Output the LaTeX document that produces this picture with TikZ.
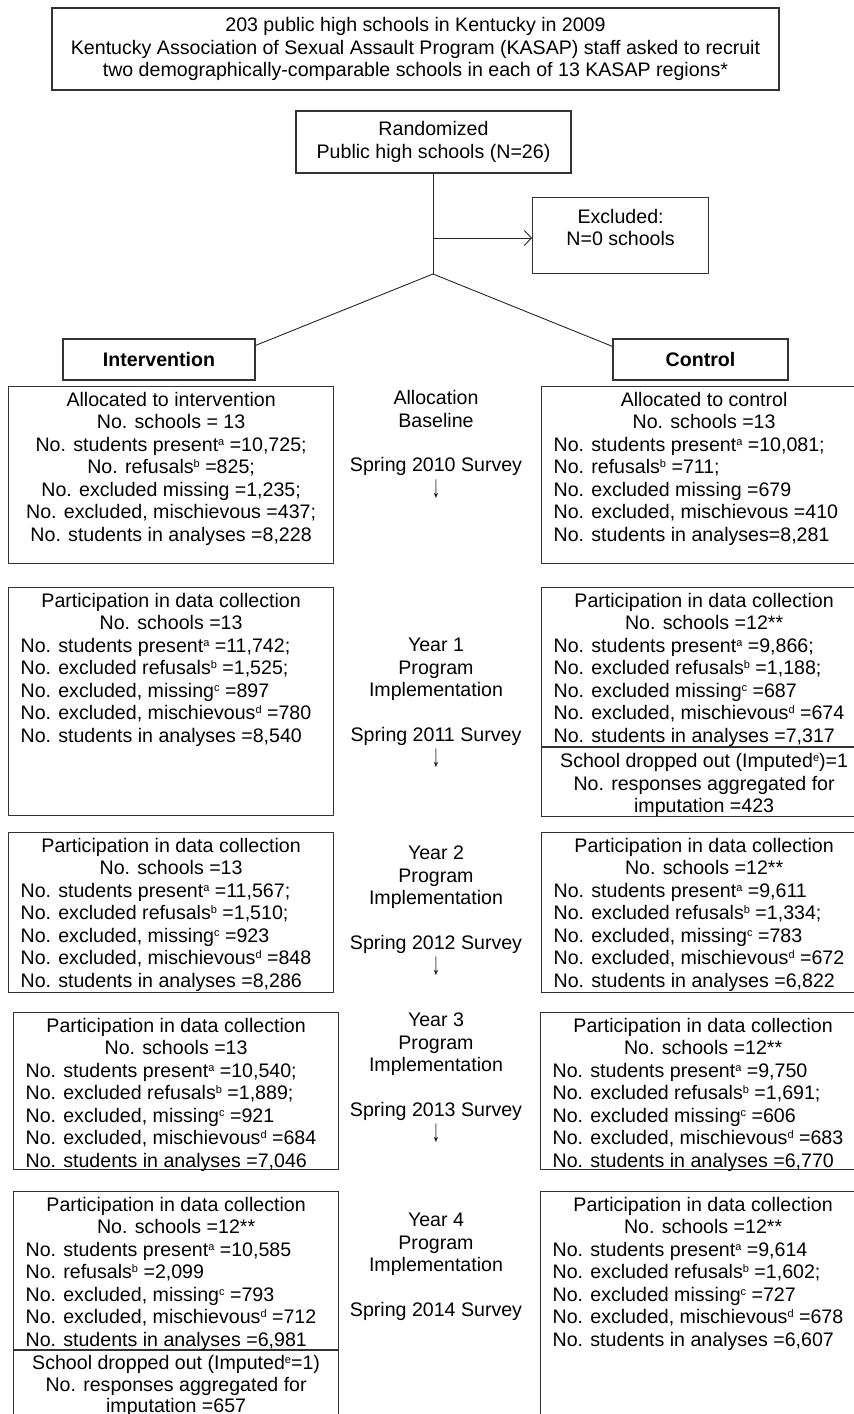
\documentclass[tikz,border=0pt]{standalone}
\usepackage{fontspec}
\setmainfont{Liberation Sans}
\usetikzlibrary{arrows.meta,calc}
\definecolor{BoxClr}{rgb}{0.2,0.2,0.2}
\definecolor{LineClr}{rgb}{0.15,0.15,0.15}
\newcommand{\fn}[1]{\raisebox{6pt}{\fontsize{11}{11}\selectfont #1}}
\newcommand{\dnarrow}{\scalebox{0.8}[1.6]{↓}}
\newcommand{\cellbox}[2]{\parbox[t][#1][t]{301pt}{\raggedright #2}}

\begin{document}
\begin{tikzpicture}[x=1pt,y=-1pt,
  every node/.style={font=\fontsize{19.6}{22.5}\selectfont},
  box/.style={draw=BoxClr,line width=1.2pt,inner xsep=12pt,inner ysep=4pt,anchor=north west},
  head/.style={draw=BoxClr,line width=1.2pt,align=center,inner sep=0pt},
  mid/.style={align=center,inner sep=0pt,anchor=north},
  link/.style={draw=LineClr,line width=0.9pt}]
\useasboundingbox (0,0) rectangle (854,1414);
\clip (0,0) rectangle (854,1414);

% enrolment and randomisation
\node[head,minimum width=727pt,minimum height=82pt] (pool) at (415.5,49)
  {203 public high schools in Kentucky in 2009\\Kentucky Association of Sexual Assault Program (KASAP) staff asked to recruit\\two demographically-comparable schools in each of 13 KASAP regions*};
\node[head,minimum width=275pt,minimum height=62pt] (rand) at (433.5,142)
  {Randomized\\Public high schools (N=26)};
\node[box,inner ysep=10pt] (excl) at (532,197)
  {\parbox[t][56pt][t]{152pt}{\centering\strut Excluded:\\N=0 schools}};
\node[head,minimum width=192pt,minimum height=41pt] (int) at (159,359.5) {\textbf{Intervention}};
\node[head,minimum width=175pt,minimum height=41pt] (ctl) at (700.5,359.5) {\textbf{Control}};

\coordinate (split) at (433,238);
\coordinate (fork) at (433,274);
\draw[link] (rand.south -| fork) -- (fork);
\draw[link,-{Straight Barb[length=7pt,width=15pt]}] (split) -- (split -| excl.west);
\draw[link] ([yshift=-7pt]int.north east) -- (fork) -- ([yshift=-8pt]ctl.north west);

% time line
\node[mid] (t0) at (436,389) {\strut Allocation\\Baseline\\[22pt]Spring 2010 Survey\\[3pt]\dnarrow};
\node[mid] (t1) at (436,636) {\strut Year 1\\Program\\Implementation\\[22pt]Spring 2011 Survey\\[3pt]\dnarrow};
\node[mid] (t2) at (436,844) {\strut Year 2\\Program\\Implementation\\[22pt]Spring 2012 Survey\\[3pt]\dnarrow};
\node[mid] (t3) at (436,1011) {\strut Year 3\\Program\\Implementation\\[22pt]Spring 2013 Survey\\[3pt]\dnarrow};
\node[mid] (t4) at (436,1211) {\strut Year 4\\Program\\Implementation\\[22pt]Spring 2014 Survey};

% baseline
\node[box] (ia) at (8,386) {\cellbox{169pt}{{\centering\strut Allocated to intervention\\No. schools = 13\\No. students present\fn{a} =10,725;\\No. refusals\fn{b} =825;\\No. excluded missing =1,235;\\No. excluded, mischievous =437;\\No. students in analyses =8,228\par}}};
\node[box] (ca) at (541,386) {\cellbox{169pt}{{\centering\strut Allocated to control\\No. schools =13\par}No. students present\fn{a} =10,081;\\No. refusals\fn{b} =711;\\No. excluded missing =679\\No. excluded, mischievous =410\\No. students in analyses=8,281}};

% year 1
\node[box] (i1) at (8,587) {\cellbox{220pt}{{\centering\strut Participation in data collection\\No. schools =13\par}No. students present\fn{a} =11,742;\\No. excluded refusals\fn{b} =1,525;\\No. excluded, missing\fn{c} =897\\No. excluded, mischievous\fn{d} =780\\No. students in analyses =8,540}};
\node[box] (c1) at (541,587) {\cellbox{151pt}{{\centering\strut Participation in data collection\\No. schools =12**\par}No. students present\fn{a} =9,866;\\No. excluded refusals\fn{b} =1,188;\\No. excluded missing\fn{c} =687\\No. excluded, mischievous\fn{d} =674\\No. students in analyses =7,317}};
\node[box] (c1d) at (c1.south west) {\cellbox{61pt}{{\centering\strut School dropped out (Imputed\fn{e})=1\\No. responses aggregated for\\imputation =423\par}}};

% year 2
\node[box] (i2) at (8,832) {\cellbox{152pt}{{\centering\strut Participation in data collection\\No. schools =13\par}No. students present\fn{a} =11,567;\\No. excluded refusals\fn{b} =1,510;\\No. excluded, missing\fn{c} =923\\No. excluded, mischievous\fn{d} =848\\No. students in analyses =8,286}};
\node[box] (c2) at (541,832) {\cellbox{152pt}{{\centering\strut Participation in data collection\\No. schools =12**\par}No. students present\fn{a} =9,611\\No. excluded refusals\fn{b} =1,334;\\No. excluded, missing\fn{c} =783\\No. excluded, mischievous\fn{d} =672\\No. students in analyses =6,822}};

% year 3
\node[box] (i3) at (13,1012) {\cellbox{149pt}{{\centering\strut Participation in data collection\\No. schools =13\par}No. students present\fn{a} =10,540;\\No. excluded refusals\fn{b} =1,889;\\No. excluded, missing\fn{c} =921\\No. excluded, mischievous\fn{d} =684\\No. students in analyses =7,046}};
\node[box] (c3) at (540,1012) {\cellbox{149pt}{{\centering\strut Participation in data collection\\No. schools =12**\par}No. students present\fn{a} =9,750\\No. excluded refusals\fn{b} =1,691;\\No. excluded missing\fn{c} =606\\No. excluded, mischievous\fn{d} =683\\No. students in analyses =6,770}};

% year 4
\node[box] (i4) at (13,1191) {\cellbox{150pt}{{\centering\strut Participation in data collection\\No. schools =12**\par}No. students present\fn{a} =10,585\\No. refusals\fn{b} =2,099\\No. excluded, missing\fn{c} =793\\No. excluded, mischievous\fn{d} =712\\No. students in analyses =6,981}};
\node[box] (i4d) at (i4.south west) {\cellbox{63pt}{\fontsize{19.6}{21.5}\selectfont{\centering\strut School dropped out (Imputed\fn{e}=1)\\No. responses aggregated for\\imputation =657\par}}};
\node[box] (c4) at (540,1191) {\cellbox{221pt}{{\centering\strut Participation in data collection\\No. schools =12**\par}No. students present\fn{a} =9,614\\No. excluded refusals\fn{b} =1,602;\\No. excluded missing\fn{c} =727\\No. excluded, mischievous\fn{d} =678\\No. students in analyses =6,607}};
\end{tikzpicture}
\end{document}
